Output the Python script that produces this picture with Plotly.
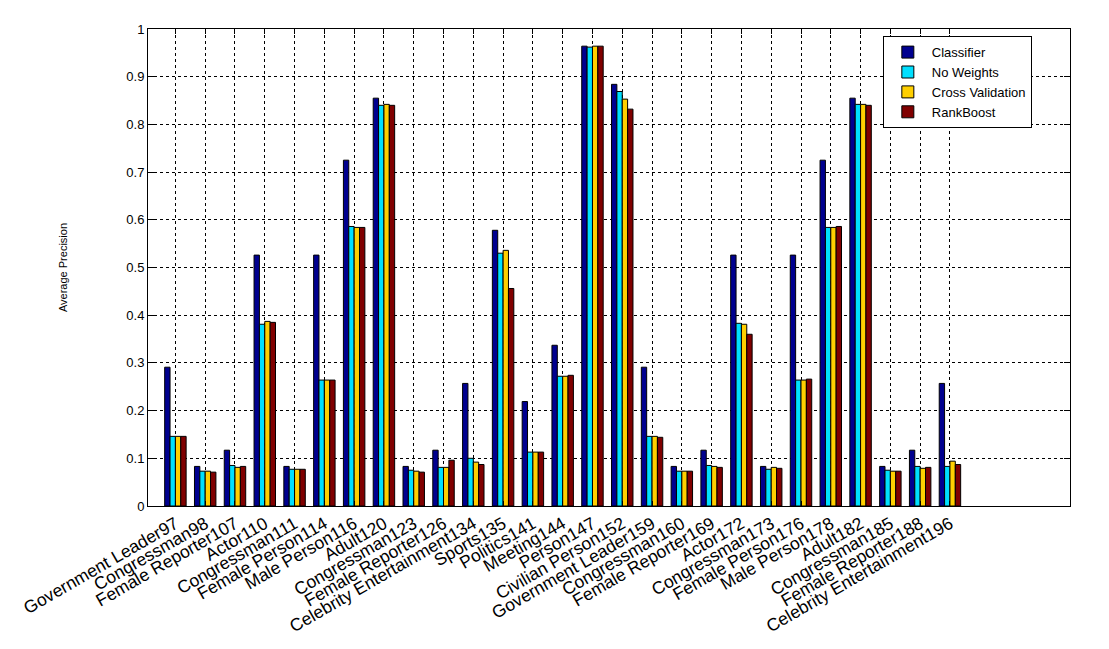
import plotly.graph_objects as go

# categories (x axis tick labels)
categories = [
    'Government Leader97', 'Congressman98', 'Female Reporter107', 'Actor110',
    'Congressman111', 'Female Person114', 'Male Person116', 'Adult120',
    'Congressman123', 'Female Reporter126', 'Celebrity Entertainment134',
    'Sports135', 'Politics141', 'Meeting144', 'Person147', 'Civilian Person152',
    'Government Leader159', 'Congressman160', 'Female Reporter169', 'Actor172',
    'Congressman173', 'Female Person176', 'Male Person178', 'Adult182',
    'Congressman185', 'Female Reporter188', 'Celebrity Entertainment196',
]

# series values
classifier = [0.291, 0.083, 0.117, 0.526, 0.083, 0.526, 0.725, 0.855, 0.083, 0.117,
              0.257, 0.578, 0.219, 0.337, 0.964, 0.884, 0.291, 0.083, 0.117, 0.526,
              0.083, 0.526, 0.725, 0.855, 0.083, 0.117, 0.257]
no_weights = [0.146, 0.073, 0.085, 0.381, 0.077, 0.264, 0.586, 0.840, 0.075, 0.081,
              0.100, 0.530, 0.113, 0.272, 0.962, 0.869, 0.146, 0.073, 0.085, 0.383,
              0.077, 0.264, 0.584, 0.842, 0.075, 0.083, 0.083]
cross_validation = [0.146, 0.073, 0.081, 0.387, 0.077, 0.264, 0.584, 0.842, 0.073, 0.081,
                    0.092, 0.536, 0.113, 0.272, 0.964, 0.853, 0.146, 0.073, 0.083, 0.381,
                    0.081, 0.264, 0.584, 0.842, 0.073, 0.079, 0.094]
rankboost = [0.146, 0.071, 0.083, 0.385, 0.077, 0.264, 0.584, 0.840, 0.071, 0.096,
             0.087, 0.456, 0.113, 0.274, 0.964, 0.832, 0.144, 0.073, 0.081, 0.360,
             0.079, 0.266, 0.586, 0.840, 0.073, 0.081, 0.087]

series_names = ['Classifier', 'No Weights', 'Cross Validation', 'RankBoost']
series_colors = ['#00008F', '#00DFFF', '#FFCF00', '#800000']

y_ticks = [0, 0.1, 0.2, 0.3, 0.4, 0.5, 0.6, 0.7, 0.8, 0.9, 1]
y_ticktext = ['0', '0.1', '0.2', '0.3', '0.4', '0.5', '0.6', '0.7', '0.8', '0.9', '1']

x_pos = list(range(1, len(categories) + 1))

fig = go.Figure()
for name, vals, col in zip(series_names,
                           [classifier, no_weights, cross_validation, rankboost],
                           series_colors):
    fig.add_trace(go.Bar(
        x=x_pos, y=vals, name=name,
        marker=dict(color=col, line=dict(color='black', width=1)),
    ))

font_family = 'Liberation Sans, Arial, sans-serif'

# the page body adds an 8px offset, margins are trimmed to compensate
fig.update_layout(
    width=1109, height=649,
    margin=dict(l=140, r=47, t=21, b=151),
    paper_bgcolor='white', plot_bgcolor='white',
    barmode='group', bargap=0.28, bargroupgap=0,
    font=dict(family=font_family, color='black', size=13),
    showlegend=True,
    legend=dict(
        x=0.797, y=0.985, xanchor='left', yanchor='top',
        bgcolor='white', bordercolor='black', borderwidth=1,
        font=dict(size=13), tracegroupgap=0,
        itemwidth=38,
    ),
)

fig.update_xaxes(
    range=[0.08, 31.03],
    tickmode='array', tickvals=x_pos, ticktext=categories,
    tickangle=-30, tickfont=dict(size=17.5),
    ticks='inside', ticklen=5, tickcolor='black',
    showline=True, linecolor='black', linewidth=1, mirror='ticks',
    showgrid=True, gridcolor='black', gridwidth=1, griddash='3px,3px',
    zeroline=False, automargin=False,
)
fig.update_yaxes(
    range=[0, 1],
    tickmode='array', tickvals=y_ticks, ticktext=y_ticktext,
    tickfont=dict(size=13),
    ticks='inside', ticklen=6, tickcolor='black',
    showline=True, linecolor='black', linewidth=1, mirror='ticks',
    showgrid=True, gridcolor='black', gridwidth=1, griddash='3px,3px',
    zeroline=False, automargin=False,
    title=dict(text='Average Precision', font=dict(size=11), standoff=56),
)

fig.write_html("out.html")
